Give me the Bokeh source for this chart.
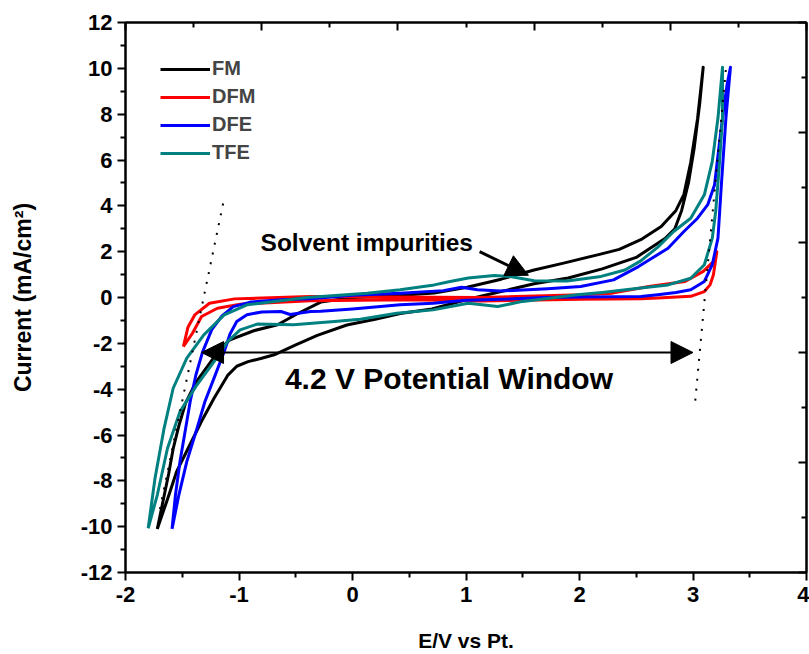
from bokeh.plotting import figure
from bokeh.models import LinearAxis, FixedTicker, Arrow, NormalHead, Label, Range1d
from bokeh.embed import file_html
from bokeh.resources import INLINE

# ---------------- data ----------------
fm_x = [-1.72, -1.67, -1.62, -1.58, -1.53, -1.47, -1.38, -1.27, -1.16, -1.08,
        -0.87, -0.66, -0.49, -0.28, 0.00, 0.30, 0.72, 1.01, 1.31, 1.60,
        1.86, 2.15, 2.35, 2.55, 2.72, 2.85, 2.92, 2.98, 3.04, 3.09,
        3.06, 3.01, 2.96, 2.90, 2.84, 2.76, 2.50, 2.20, 1.90, 1.60,
        1.30, 1.00, 0.70, 0.42, 0.20, -0.05, -0.31, -0.50, -0.69, -0.80,
        -0.92, -1.02, -1.10, -1.22, -1.33, -1.45, -1.55, -1.63, -1.72]
fm_y = [-10.1, -8.9, -7.7, -6.6, -5.6, -4.6, -3.7, -2.95, -2.2, -1.85,
        -1.45, -1.19, -0.72, -0.2, 0.0, 0.05, 0.2, 0.45, 0.8, 1.2,
        1.5, 1.85, 2.1, 2.55, 3.1, 3.8, 4.5, 5.9, 7.8, 10.05,
        8.5, 6.5, 5.0, 3.8, 3.0, 2.6, 1.75, 1.25, 0.85, 0.6,
        0.25, -0.1, -0.5, -0.7, -0.95, -1.2, -1.65, -2.07, -2.5, -2.65,
        -2.8, -3.0, -3.4, -4.4, -5.4, -6.6, -7.6, -8.8, -10.1]

dfm_x = [-1.49, -1.45, -1.41, -1.33, -1.19, -0.99, -0.37, 0.50, 1.13, 2.00,
         2.54, 2.69, 2.98, 3.10, 3.15, 3.18, 3.21,
         3.18, 3.09, 2.93, 2.61, 2.29, 2.01, 1.13, 0.30, -0.37, -1.04,
         -1.26, -1.39, -1.45, -1.49]
dfm_y = [-2.14, -1.85, -1.56, -0.83, -0.47, -0.29, -0.14, -0.10, -0.15, -0.08,
         -0.05, -0.02, 0.05, 0.26, 0.55, 0.99, 2.00,
         1.57, 1.14, 0.70, 0.48, 0.19, 0.12, 0.00, 0.02, 0.04, -0.06,
         -0.25, -0.76, -1.30, -2.14]

dfe_x = [-1.59, -1.53, -1.46, -1.37, -1.30, -1.22, -1.13, -1.08, -1.02, -0.93,
         -0.80, -0.63, -0.55, -0.37, -0.28, 0.00, 0.42, 0.71, 1.00, 1.31,
         1.70, 2.00, 2.30, 2.54, 2.69, 2.85, 2.98, 3.10, 3.17, 3.22,
         3.25, 3.29, 3.33,
         3.30, 3.26, 3.22, 3.19, 3.13, 3.04, 2.92, 2.78, 2.52, 2.30,
         2.01, 1.72, 1.30, 1.10, 0.96, 0.80, 0.42, 0.00, -0.37, -0.63,
         -0.90, -1.05, -1.15, -1.24, -1.32, -1.38, -1.43, -1.47, -1.52, -1.56, -1.59]
dfe_y = [-10.1, -8.62, -7.16, -5.71, -4.54, -3.52, -2.36, -1.60, -1.05, -0.75,
         -0.63, -0.61, -0.74, -0.61, -0.60, -0.50, -0.32, -0.25, -0.12, -0.08,
         0.00, 0.02, 0.03, 0.04, 0.12, 0.22, 0.34, 0.70, 1.43, 2.59,
         4.92, 7.83, 10.05,
         9.29, 7.83, 6.20, 4.92, 4.05, 3.46, 2.88, 2.15, 1.35, 0.77,
         0.48, 0.38, 0.28, 0.34, 0.45, 0.30, 0.19, 0.10, -0.05, -0.10,
         -0.20, -0.40, -0.80, -1.40, -2.36, -3.38, -4.54, -5.71, -7.16, -8.62, -10.1]

tfe_x = [-1.80, -1.74, -1.66, -1.58, -1.46, -1.31, -1.13, -0.93, -0.40, 0.13,
         0.42, 0.72, 0.86, 1.02, 1.25, 1.39, 1.60, 1.89, 2.19, 2.40,
         2.54, 2.69, 2.83, 2.98, 3.10, 3.17, 3.22, 3.26,
         3.26, 3.23, 3.20, 3.17, 3.10, 2.98, 2.78, 2.54, 2.20, 1.98,
         1.50, 1.28, 1.02, 0.71, 0.39, 0.07, -0.16, -0.52, -0.84, -0.99,
         -1.10, -1.22, -1.37, -1.52, -1.63, -1.72, -1.80]
tfe_y = [-10.07, -7.89, -5.71, -3.96, -2.65, -1.63, -0.76, -0.32, 0.00, 0.19,
         0.34, 0.55, 0.70, 0.85, 0.96, 0.92, 0.73, 0.72, 0.92, 1.20,
         1.60, 2.20, 2.88, 3.46, 4.48, 5.94, 7.83, 10.05,
         7.83, 5.65, 3.76, 2.59, 1.43, 0.84, 0.55, 0.41, 0.22, 0.12,
         -0.17, -0.39, -0.25, -0.54, -0.69, -0.95, -1.05, -1.19, -1.16, -1.41,
         -1.92, -2.80, -3.81, -4.98, -6.58, -8.62, -10.07]

guide_left_x = [-1.14, -1.70]
guide_left_y = [4.1, -9.3]
guide_right_x = [3.02, 3.29]
guide_right_y = [-4.5, 10.0]

series_names = ["FM", "DFM", "DFE", "TFE"]

x_ticks = [-2, -1, 0, 1, 2, 3, 4]
x_tick_labels = ["-2", "-1", "0", "1", "2", "3", "4"]
x_minor = [-1.5, -0.5, 0.5, 1.5, 2.5, 3.5]
y_ticks = [-12, -10, -8, -6, -4, -2, 0, 2, 4, 6, 8, 10, 12]
y_tick_labels = ["-12", "-10", "-8", "-6", "-4", "-2", "0", "2", "4", "6", "8", "10", "12"]
y_minor = [-11, -9, -7, -5, -3, -1, 1, 3, 5, 7, 9, 11]
top_ticks = [-2, -0.8, 0.4, 1.6, 2.8, 4.0]
top_minor = [-1.4, -0.2, 1.0, 2.2, 3.4]
right_ticks = [-12, -7.2, -2.4, 2.4, 7.2, 12]
right_minor = [-9.6, -4.8, 0, 4.8, 9.6]

# ---------------- figure ----------------
FONT = "Liberation Sans"

p = figure(width=809, height=654, x_range=Range1d(-2, 4), y_range=Range1d(-12, 12),
           output_backend="svg", toolbar_location=None,
           min_border_left=125, min_border_right=3, min_border_top=22, min_border_bottom=82)
p.xgrid.visible = False
p.ygrid.visible = False
p.outline_line_color = "black"
p.outline_line_width = 2
p.background_fill_color = "white"
p.border_fill_color = "white"

colors = ["#000000", "#ff0000", "#0000ff", "#008080"]
xs = [fm_x, dfm_x, dfe_x, tfe_x]
ys = [fm_y, dfm_y, dfe_y, tfe_y]
for x, y, c, n in zip(xs, ys, colors, series_names):
    p.line(x, y, line_color=c, line_width=3, legend_label=n, line_join="round")

p.line(guide_left_x, guide_left_y, line_color="black", line_width=2, line_dash="2 8")
p.line(guide_right_x, guide_right_y, line_color="black", line_width=2, line_dash="2 8")

# bottom axis
xa = p.xaxis[0]
xa.ticker = FixedTicker(ticks=x_ticks, minor_ticks=x_minor)
xa.major_label_overrides = {t: l for t, l in zip(x_ticks, x_tick_labels)}
xa.axis_label = "E/V vs Pt."
# left axis
ya = p.yaxis[0]
ya.ticker = FixedTicker(ticks=y_ticks, minor_ticks=y_minor)
ya.major_label_overrides = {t: l for t, l in zip(y_ticks, y_tick_labels)}
ya.axis_label = "Current (mA/cm\u00b2)"

for ax in (xa, ya):
    ax.axis_line_width = 2
    ax.major_tick_line_width = 2
    ax.minor_tick_line_width = 2
    ax.major_tick_out = 8
    ax.major_tick_in = 0
    ax.minor_tick_out = 5
    ax.minor_tick_in = 0
    ax.major_label_text_font = FONT
    ax.major_label_text_font_style = "bold"
    ax.major_label_text_font_size = "22px"
    ax.major_label_text_color = "black"
    ax.axis_label_text_font = FONT
    ax.axis_label_text_font_style = "bold"
    ax.axis_label_text_color = "black"
xa.axis_label_text_font_size = "21px"
ya.axis_label_text_font_size = "23px"
xa.major_label_standoff = 6
xa.axis_label_standoff = 24
ya.major_label_standoff = 5
ya.axis_label_standoff = 42

# mirrored axes (inward ticks)
top = LinearAxis(ticker=FixedTicker(ticks=top_ticks, minor_ticks=top_minor))
right = LinearAxis(ticker=FixedTicker(ticks=right_ticks, minor_ticks=right_minor))
for ax in (top, right):
    ax.axis_line_width = 2
    ax.major_tick_line_width = 2
    ax.minor_tick_line_width = 2
    ax.major_tick_out = 0
    ax.major_tick_in = 8
    ax.minor_tick_out = 0
    ax.minor_tick_in = 5
    ax.major_label_text_font_size = "0px"
    ax.major_label_standoff = 0
    ax.major_label_text_alpha = 0
p.add_layout(top, "above")
p.add_layout(right, "right")

# annotations
head_kw = dict(fill_color="black", line_color="black")
p.add_layout(Arrow(start=NormalHead(size=22, **head_kw), end=NormalHead(size=22, **head_kw),
                   x_start=-1.33, y_start=-2.4, x_end=3.0, y_end=-2.4,
                   line_width=2, line_color="black"))
p.add_layout(Arrow(end=NormalHead(size=22, **head_kw),
                   x_start=1.12, y_start=2.0, x_end=1.55, y_end=0.97,
                   line_width=3, line_color="black"))
p.add_layout(Label(x=-0.81, y=2.4, text="Solvent impurities", text_font=FONT,
                   text_font_style="bold", text_font_size="24.5px", text_baseline="middle",
                   text_color="black"))
p.add_layout(Label(x=0.85, y=-3.55, text="4.2 V Potential Window", text_font=FONT,
                   text_font_style="bold", text_font_size="30px", text_baseline="middle",
                   text_align="center", text_color="black"))

# legend
lg = p.legend[0]
lg.location = "top_left"
lg.border_line_color = None
lg.background_fill_alpha = 0
lg.label_text_font = FONT
lg.label_text_font_style = "bold"
lg.label_text_font_size = "20px"
lg.glyph_width = 50
lg.glyph_height = 20
lg.label_height = 20
lg.spacing = 5
lg.margin = 35
lg.padding = 11
lg.label_standoff = 2

open("out.html", "w").write(file_html(p, INLINE))
